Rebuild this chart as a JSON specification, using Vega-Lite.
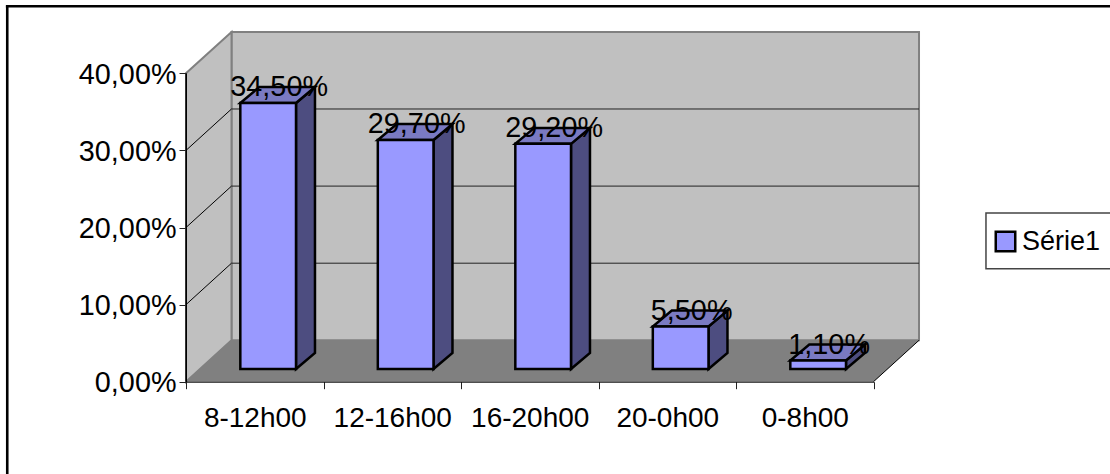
{
  "$schema": "https://vega.github.io/schema/vega-lite/v6.json",
  "width": 1110,
  "height": 474,
  "padding": 0,
  "autosize": {"type": "none"},
  "background": "white",
  "config": {
    "view": {"stroke": null},
    "font": "Liberation Sans",
    "text": {"font": "Liberation Sans"}
  },
  "datasets": {
    "turnos": [
      {"periodo": "8-12h00", "pct": 0.345, "serie": "Série1"},
      {"periodo": "12-16h00", "pct": 0.297, "serie": "Série1"},
      {"periodo": "16-20h00", "pct": 0.292, "serie": "Série1"},
      {"periodo": "20-0h00", "pct": 0.055, "serie": "Série1"},
      {"periodo": "0-8h00", "pct": 0.011, "serie": "Série1"}
    ],
    "niveis": [{"pct": 0.1}, {"pct": 0.2}, {"pct": 0.3}]
  },
  "resolve": {"scale": {"x": "independent"}, "axis": {"x": "independent", "y": "independent"}},
  "layer": [
    {
      "description": "Carries the category and percentage axes",
      "data": {"name": "turnos"},
      "mark": {"type": "point", "opacity": 0},
      "encoding": {
        "x": {
          "field": "periodo", "type": "nominal", "sort": null, "title": null,
          "scale": {"type": "band", "range": [186, 873.5], "paddingInner": 0, "paddingOuter": 0},
          "axis": {
            "orient": "bottom", "offset": -92.3, "zindex": 2, "tickBand": "extent", "labelAngle": 0,
            "domainColor": "#000000", "tickColor": "#222222", "tickSize": 7, "labelPadding": 16,
            "labelFontSize": 28, "labelFont": "Liberation Sans", "labelColor": "#000000",
            "labelOverlap": false, "labelLimit": 300
          }
        },
        "y": {
          "field": "pct", "type": "quantitative", "title": null,
          "scale": {"domain": [0, 0.4], "range": [381.7, 73.3], "nice": false},
          "axis": {
            "orient": "left", "offset": -186, "zindex": 2, "grid": false, "values": [0, 0.1, 0.2, 0.3, 0.4],
            "labelExpr": "replace(format(datum.value, '.2%'), '.', ',')",
            "domainColor": "#000000", "tickColor": "#222222", "tickSize": 7, "labelPadding": 3,
            "labelFontSize": 28.8, "labelFont": "Liberation Sans", "labelColor": "#000000",
            "labelOffset": 1, "labelOverlap": false, "labelLimit": 300
          }
        }
      }
    },
    {
      "description": "Box walls, floor and bars in one continuous coordinate system",
      "layer": [
        {
          "data": {"values": [{}]},
          "mark": {"type": "rule", "color": "#000000", "strokeWidth": 2.6},
          "encoding": {
            "x": {"datum": -1.3, "type": "quantitative", "axis": null,
              "scale": {"domain": [0, 5], "range": [186, 873.5], "nice": false, "zero": false}},
            "y": {"datum": -0.12, "type": "quantitative", "axis": null},
            "y2": {"datum": 0.487}
          }
        },
        {
          "data": {"values": [{}]},
          "mark": {"type": "rule", "color": "#000000", "strokeWidth": 2.6},
          "encoding": {
            "x": {"datum": -1.31, "type": "quantitative", "axis": null},
            "x2": {"datum": 6.72},
            "y": {"datum": 0.487, "type": "quantitative", "axis": null}
          }
        },
        {
          "data": {"values": [{}]},
          "mark": {"type": "rect", "fill": "#ffffff", "stroke": "#444444", "strokeWidth": 1.5},
          "encoding": {
            "x": {"datum": 5.818, "type": "quantitative", "axis": null},
            "x2": {"datum": 6.9},
            "y": {"datum": 0.1466, "type": "quantitative", "axis": null},
            "y2": {"datum": 0.2188}
          }
        },
        {
          "data": {"values": [{}]},
          "mark": {"type": "rect", "fill": "#c0c0c0", "stroke": "#808080", "strokeWidth": 2},
          "encoding": {
            "x": {"datum": 0.331, "type": "quantitative", "axis": null},
            "x2": {"datum": 5.331},
            "y": {"datum": 0.0537, "type": "quantitative", "axis": null},
            "y2": {"datum": 0.4537}
          }
        },
        {
          "data": {"values": [{}]},
          "transform": [
            {"calculate": "[0, 0.331]", "as": "px"},
            {"calculate": "[0, 0.0537]", "as": "base"},
            {"calculate": "[0.4, 0.4537]", "as": "topo"},
            {"flatten": ["px", "base", "topo"]}
          ],
          "mark": {"type": "area", "orient": "vertical", "fill": "#c0c0c0", "stroke": "#808080", "strokeWidth": 2},
          "encoding": {
            "x": {"field": "px", "type": "quantitative", "axis": null},
            "y": {"field": "base", "type": "quantitative", "axis": null},
            "y2": {"field": "topo"}
          }
        },
        {
          "data": {"values": [{}]},
          "transform": [
            {"calculate": "[0, 0.331, 5, 5.331]", "as": "px"},
            {"calculate": "[0, 0, 0, 0.0537]", "as": "base"},
            {"calculate": "[0, 0.0537, 0.0537, 0.0537]", "as": "topo"},
            {"flatten": ["px", "base", "topo"]}
          ],
          "mark": {"type": "area", "orient": "vertical", "fill": "#808080"},
          "encoding": {
            "x": {"field": "px", "type": "quantitative", "axis": null},
            "y": {"field": "base", "type": "quantitative", "axis": null},
            "y2": {"field": "topo"}
          }
        },
        {
          "data": {"values": [{}]},
          "mark": {"type": "rule", "color": "#000000", "strokeWidth": 1},
          "encoding": {
            "x": {"datum": 5, "type": "quantitative", "axis": null},
            "x2": {"datum": 5.331},
            "y": {"datum": 0, "type": "quantitative", "axis": null},
            "y2": {"datum": 0.0537}
          }
        },
        {
          "data": {"values": [{}]},
          "mark": {"type": "rule", "color": "#000000", "strokeWidth": 1.2},
          "encoding": {
            "x": {"datum": 0, "type": "quantitative", "axis": null},
            "y": {"datum": 0, "type": "quantitative", "axis": null},
            "y2": {"datum": 0.4}
          }
        },
        {
          "data": {"name": "niveis"},
          "transform": [
            {"calculate": "datum.pct + 0.0537", "as": "fundo"},
            {"calculate": "0", "as": "x0"},
            {"calculate": "0.331", "as": "x1"}
          ],
          "mark": {"type": "rule", "color": "#000000", "strokeWidth": 1},
          "encoding": {
            "x": {"field": "x0", "type": "quantitative", "axis": null},
            "x2": {"field": "x1"},
            "y": {"field": "pct", "type": "quantitative", "axis": null},
            "y2": {"field": "fundo"}
          }
        },
        {
          "data": {"name": "niveis"},
          "transform": [
            {"calculate": "datum.pct + 0.0537", "as": "fundo"},
            {"calculate": "0.331", "as": "x0"},
            {"calculate": "5.331", "as": "x1"}
          ],
          "mark": {"type": "rule", "color": "#222222", "strokeWidth": 1},
          "encoding": {
            "x": {"field": "x0", "type": "quantitative", "axis": null},
            "x2": {"field": "x1"},
            "y": {"field": "fundo", "type": "quantitative", "axis": null}
          }
        },
        {
          "data": {"name": "turnos"},
          "transform": [
            {"window": [{"op": "row_number", "as": "n"}]},
            {"calculate": "datum.n - 1 + 0.395", "as": "esq"},
            {"calculate": "datum.n - 1 + 0.8", "as": "dir"},
            {"calculate": "(datum.esq + datum.dir) / 2", "as": "meio"},
            {"calculate": "0.0165", "as": "piso"},
            {"calculate": "datum.piso + datum.pct", "as": "teto"}
          ],
          "layer": [
            {
              "transform": [
                {"calculate": "[datum.dir, datum.dir + 0.138]", "as": "px"},
                {"calculate": "[datum.piso, datum.piso + 0.0207]", "as": "base"},
                {"calculate": "[datum.teto, datum.teto + 0.0207]", "as": "topo"},
                {"flatten": ["px", "base", "topo"]}
              ],
              "mark": {"type": "area", "orient": "vertical", "fill": "#4d4d80", "stroke": "#000000", "strokeWidth": 2.5, "strokeJoin": "miter"},
              "encoding": {
                "x": {"field": "px", "type": "quantitative", "axis": null},
                "y": {"field": "base", "type": "quantitative", "axis": null},
                "y2": {"field": "topo"},
                "detail": {"field": "periodo"}
              }
            },
            {
              "transform": [
                {"calculate": "[datum.esq, datum.esq + 0.138, datum.dir, datum.dir + 0.138]", "as": "px"},
                {"calculate": "[datum.teto, datum.teto, datum.teto, datum.teto + 0.0207]", "as": "base"},
                {"calculate": "[datum.teto, datum.teto + 0.0207, datum.teto + 0.0207, datum.teto + 0.0207]", "as": "topo"},
                {"flatten": ["px", "base", "topo"]}
              ],
              "mark": {"type": "area", "orient": "vertical", "fill": "#7a7ac2", "stroke": "#000000", "strokeWidth": 2.5, "strokeJoin": "miter"},
              "encoding": {
                "x": {"field": "px", "type": "quantitative", "axis": null},
                "y": {"field": "base", "type": "quantitative", "axis": null},
                "y2": {"field": "topo"},
                "detail": {"field": "periodo"}
              }
            },
            {
              "mark": {"type": "rect", "stroke": "#000000", "strokeWidth": 2.5},
              "encoding": {
                "x": {"field": "esq", "type": "quantitative", "axis": null},
                "x2": {"field": "dir"},
                "y": {"field": "piso", "type": "quantitative", "axis": null},
                "y2": {"field": "teto"},
                "color": {
                  "field": "serie", "type": "nominal",
                  "scale": {"range": ["#9999ff"]},
                  "legend": {
                    "title": null, "orient": "none", "legendX": 992, "legendY": 228, "padding": 0,
                    "symbolType": "square", "symbolSize": 380,
                    "symbolStrokeColor": "#000000", "symbolStrokeWidth": 2.5,
                    "labelFontSize": 27, "labelFont": "Liberation Sans", "labelColor": "#000000",
                    "labelOffset": 3
                  }
                }
              }
            },
            {
              "transform": [
                {"calculate": "replace(format(datum.pct, '.2%'), '.', ',')", "as": "rotulo"}
              ],
              "mark": {"type": "text", "fontSize": 28.8, "font": "Liberation Sans", "color": "#000000", "align": "center", "baseline": "middle", "dx": 11, "dy": -15.5},
              "encoding": {
                "x": {"field": "meio", "type": "quantitative", "axis": null},
                "y": {"field": "teto", "type": "quantitative", "axis": null},
                "text": {"field": "rotulo"}
              }
            }
          ]
        }
      ]
    }
  ]
}
